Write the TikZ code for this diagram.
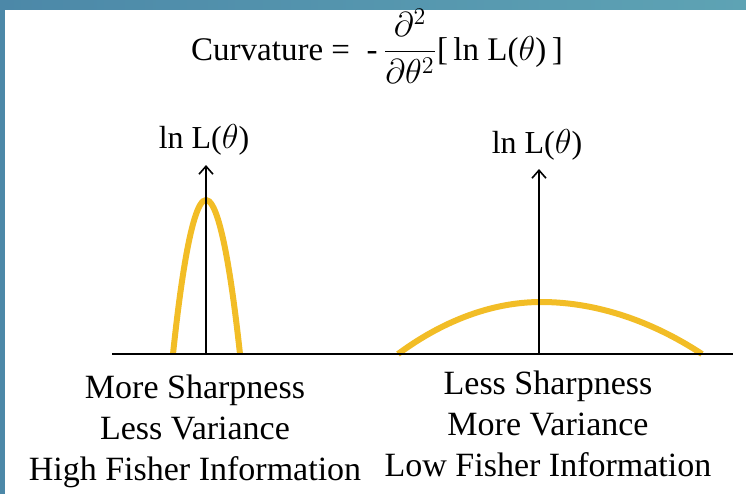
\documentclass[tikz,border=0pt]{standalone}
\usepackage{amsmath}
\usepackage{fontspec}
\setmainfont{Liberation Serif}
\usetikzlibrary{arrows.meta}
\definecolor{barleft}{RGB}{76,136,168}
\definecolor{barright}{RGB}{94,163,180}
\definecolor{curvegold}{RGB}{242,189,38}
\begin{document}
\begin{tikzpicture}[x=0.5pt, y=-0.5pt,
  every node/.style={font=\fontsize{16}{20.5}\selectfont, inner sep=0pt},
  axisline/.style={line width=0.8pt, black},
  axisarrow/.style={axisline, -{Straight Barb[length=4pt, width=7pt]}},
  likecurve/.style={line width=3pt, curvegold},
  caption/.style={align=center, anchor=north, font=\fontsize{17}{20.5}\selectfont}]
  \useasboundingbox (0,0) rectangle (746,494);
  \shade[left color=barleft, right color=barright] (0,0) rectangle (746,9);
  \fill[barleft] (0,0) rectangle (5,494);
  \node[anchor=base, font=\fontsize{16.5}{20.5}\selectfont] (curv) at (377,60) {Curvature =\ \ -\,$\dfrac{\partial^2}{\partial\theta^2}$[\,ln L($\theta$)\,]};
  \coordinate (axl) at (112,354);
  \coordinate (axr) at (733,354);
  \coordinate (o1) at (206,354);
  \coordinate (t1) at (206,165);
  \coordinate (o2) at (539,354);
  \coordinate (t2) at (539,169);
  \node[anchor=base] (lab1) at (204,148) {ln L($\theta$)};
  \node[anchor=base] (lab2) at (537,153) {ln L($\theta$)};
  \draw[likecurve] (173,354) parabola bend (206,200) (240,354);
  \draw[likecurve] (398,354) parabola bend (541,302) (702,354);
  \draw[axisline] (axl) -- (axr);
  \draw[axisarrow] (o1) -- (t1);
  \draw[axisarrow] (o2) -- (t2);
  \node[caption] (sharp) at (195,375) {More Sharpness\\Less Variance\\High Fisher Information};
  \node[caption] (flat) at (548,371) {Less Sharpness\\More Variance\\Low Fisher Information};
\end{tikzpicture}
\end{document}
